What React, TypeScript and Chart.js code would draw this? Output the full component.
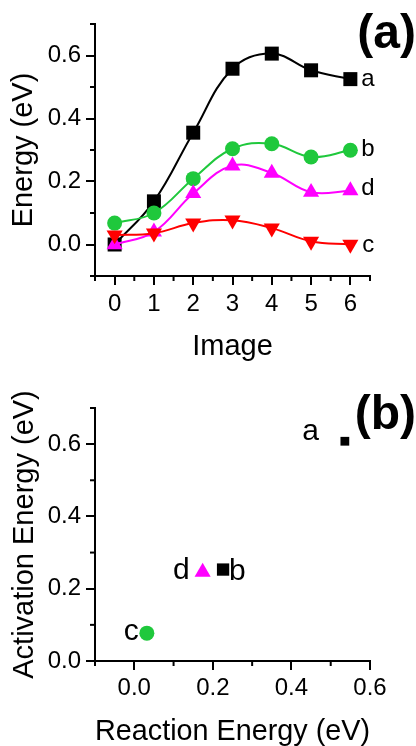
import React, { useEffect, useRef } from 'react';
import { Chart, registerables } from 'chart.js';

Chart.register(...registerables);

// ---------- Data: panel (a) ----------
const images = [0, 1, 2, 3, 4, 5, 6];
const seriesA = [0.0, 0.137, 0.355, 0.558, 0.606, 0.553, 0.525];
const seriesB = [0.068, 0.1, 0.209, 0.304, 0.32, 0.278, 0.299];
const seriesD = [0.0, 0.04, 0.162, 0.25, 0.227, 0.166, 0.171];
const seriesC = [0.03, 0.036, 0.068, 0.077, 0.052, 0.01, 0.0];
const seriesNamesTop = ['c', 'd', 'b', 'a'];

const topXTicks = [0, 1, 2, 3, 4, 5, 6];
const topXMinor = [-0.5, 0.5, 1.5, 2.5, 3.5, 4.5, 5.5, 6.5];
const topYTicks = [0, 0.2, 0.4, 0.6];
const topYMinor = [-0.1, 0.1, 0.3, 0.5, 0.7];

// ---------- Data: panel (b) ----------
const pointNames = ['a', 'b', 'd', 'c'];
const reactionEnergy = [0.536, 0.226, 0.174, 0.032];
const activationEnergy = [0.608, 0.253, 0.246, 0.077];

const botXTicks = [0, 0.2, 0.4, 0.6];
const botXMinor = [-0.1, 0.1, 0.3, 0.5];
const botYTicks = [0, 0.2, 0.4, 0.6];
const botYMinor = [0.1, 0.3, 0.5, 0.7];

const FONT = '"Liberation Sans", Arial, Helvetica, sans-serif';
const GREEN = '#1fc83c';
const MAGENTA = '#ff00ff';
const RED = '#ff0000';
const BLACK = '#000000';

const minorTicksPlugin = {
  id: 'minorTicks',
  afterDraw(chart: any, _args: any, opts: any) {
    const { ctx, chartArea, scales } = chart;
    ctx.save();
    ctx.strokeStyle = BLACK;
    ctx.lineWidth = 2;
    for (const v of opts.x || []) {
      const px = scales.x.getPixelForValue(v);
      ctx.beginPath();
      ctx.moveTo(px, chartArea.bottom);
      ctx.lineTo(px, chartArea.bottom + 5);
      ctx.stroke();
    }
    for (const v of opts.y || []) {
      const py = scales.y.getPixelForValue(v);
      ctx.beginPath();
      ctx.moveTo(chartArea.left, py);
      ctx.lineTo(chartArea.left - 5, py);
      ctx.stroke();
    }
    ctx.restore();
  },
};

const textLabelsPlugin = {
  id: 'textLabels',
  afterDraw(chart: any, _args: any, opts: any) {
    const { ctx } = chart;
    ctx.save();
    ctx.fillStyle = BLACK;
    ctx.textBaseline = 'middle';
    ctx.font = `${opts.size}px ${FONT}`;
    for (const it of opts.items || []) {
      const el = chart.getDatasetMeta(it.dataset).data[it.index];
      if (!el) continue;
      ctx.textAlign = it.align;
      ctx.fillText(it.text, el.x + it.dx, el.y + it.dy);
    }
    ctx.font = `bold 48px ${FONT}`;
    ctx.textAlign = 'right';
    ctx.textBaseline = 'alphabetic';
    ctx.fillText(opts.panel, chart.width, opts.panelY);
    ctx.restore();
  },
};

function axisCommon(title: string, titlePad: any, tickVals: number[], decimals: number, min: number, max: number, isX: boolean, labelPad: number, fitSize: number) {
  return {
    type: 'linear',
    min,
    max,
    afterBuildTicks(scale: any) {
      scale.ticks = tickVals.map((v) => ({ value: v }));
    },
    afterFit(scale: any) {
      if (isX) scale.height = fitSize;
      else scale.width = fitSize;
    },
    grid: {
      display: true,
      drawOnChartArea: false,
      drawTicks: true,
      tickLength: 9,
      tickWidth: 2,
      tickColor: BLACK,
      color: BLACK,
      lineWidth: 2,
    },
    border: { display: true, color: BLACK, width: 2 },
    ticks: {
      color: BLACK,
      padding: labelPad,
      font: { family: FONT, size: 24 },
      callback: (v: any) => Number(v).toFixed(decimals),
    },
    title: {
      display: true,
      text: title,
      color: BLACK,
      padding: titlePad,
      font: { family: FONT, size: 29, lineHeight: 1 },
    },
  };
}

function TopChart() {
  const ref = useRef<HTMLCanvasElement | null>(null);
  useEffect(() => {
    if (!ref.current) return;
    const mk = (vals: number[]) => images.map((x, i) => ({ x, y: vals[i] }));
    const ds = (label: string, vals: number[], color: string, style: string, radius: number, rotation = 0) => ({
      label,
      data: mk(vals),
      borderColor: color,
      backgroundColor: color,
      borderWidth: 2,
      tension: 0.4,
      pointStyle: style,
      pointRadius: radius,
      pointRotation: rotation,
      pointBorderWidth: 0,
      pointBackgroundColor: color,
      clip: false,
    });
    const chart = new Chart(ref.current, {
      type: 'line',
      data: {
        datasets: [
          ds(seriesNamesTop[0], seriesC, RED, 'triangle', 9.3, 180),
          ds(seriesNamesTop[1], seriesD, MAGENTA, 'triangle', 9.3),
          ds(seriesNamesTop[2], seriesB, GREEN, 'circle', 7.5),
          ds(seriesNamesTop[3], seriesA, BLACK, 'rect', 9.9),
        ],
      },
      options: {
        responsive: false,
        animation: false,
        layout: { padding: { top: 24, right: 46, left: 0, bottom: 0 } },
        scales: {
          x: axisCommon('Image', { top: 0, bottom: 18.5 }, topXTicks, 0, -0.5, 6.5, true, 5, 104) as any,
          y: axisCommon('Energy (eV)', { top: 9, bottom: 0 }, topYTicks, 1, -0.1, 0.7, false, 5, 95) as any,
        },
        plugins: {
          legend: { display: false },
          tooltip: { enabled: false },
          minorTicks: { x: topXMinor, y: topYMinor },
          textLabels: {
            size: 24,
            panel: '(a)',
            panelY: 48,
            items: [
              { text: 'a', dataset: 3, index: 6, dx: 11, dy: 0, align: 'left' },
              { text: 'b', dataset: 2, index: 6, dx: 11, dy: -1, align: 'left' },
              { text: 'd', dataset: 1, index: 6, dx: 11, dy: -2, align: 'left' },
              { text: 'c', dataset: 0, index: 6, dx: 12, dy: 1, align: 'left' },
            ],
          },
        } as any,
      },
      plugins: [minorTicksPlugin, textLabelsPlugin],
    } as any);
    return () => chart.destroy();
  }, []);
  return <canvas ref={ref} width={416} height={380} style={{ display: 'block' }} />;
}

function BottomChart() {
  const ref = useRef<HTMLCanvasElement | null>(null);
  useEffect(() => {
    if (!ref.current) return;
    const styles = [
      { color: BLACK, style: 'rect', r: 6.2 },
      { color: BLACK, style: 'rect', r: 8.7 },
      { color: MAGENTA, style: 'triangle', r: 9.3 },
      { color: GREEN, style: 'circle', r: 7.5 },
    ];
    const datasets = pointNames.map((name, i) => ({
      label: name,
      data: [{ x: reactionEnergy[i], y: activationEnergy[i] }],
      backgroundColor: styles[i].color,
      borderColor: styles[i].color,
      pointStyle: styles[i].style,
      pointRadius: styles[i].r,
      pointBorderWidth: 0,
      clip: false,
    }));
    const chart = new Chart(ref.current, {
      type: 'scatter',
      data: { datasets },
      options: {
        responsive: false,
        animation: false,
        layout: { padding: { top: 28, right: 46, left: 0, bottom: 0 } },
        scales: {
          x: axisCommon('Reaction Energy (eV)', { top: 0, bottom: 0 }, botXTicks, 1, -0.1, 0.6, true, 4, 85) as any,
          y: axisCommon('Activation Energy (eV)', { top: 10, bottom: 0 }, botYTicks, 1, 0, 0.7, false, 5, 95) as any,
        },
        plugins: {
          legend: { display: false },
          tooltip: { enabled: false },
          minorTicks: { x: botXMinor, y: botYMinor },
          textLabels: {
            size: 30,
            panel: '(b)',
            panelY: 48.5,
            items: [
              { text: 'a', dataset: 0, index: 0, dx: -26, dy: -9.5, align: 'right' },
              { text: 'b', dataset: 1, index: 0, dx: 6, dy: 2, align: 'left' },
              { text: 'd', dataset: 2, index: 0, dx: -13, dy: -1, align: 'right' },
              { text: 'c', dataset: 3, index: 0, dx: -8, dy: -1, align: 'right' },
            ],
          },
        } as any,
      },
      plugins: [minorTicksPlugin, textLabelsPlugin],
    } as any);
    return () => chart.destroy();
  }, []);
  return <canvas ref={ref} width={416} height={366} style={{ display: 'block' }} />;
}

export default function App() {
  return (
    <div style={{ position: 'absolute', left: 0, top: 0, width: 416, height: 746, background: '#ffffff' }}>
      <TopChart />
      <BottomChart />
    </div>
  );
}
